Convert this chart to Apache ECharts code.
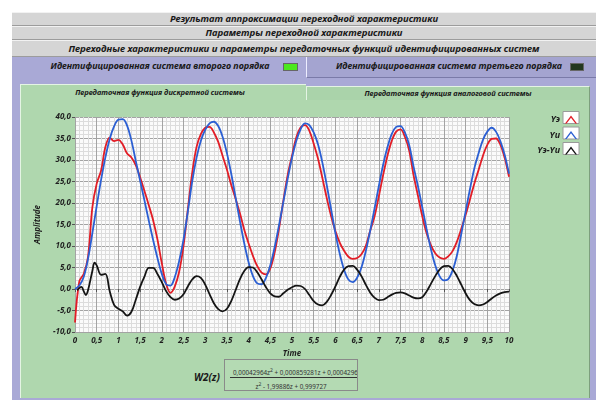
<!DOCTYPE html>
<html>
<head>
<meta charset="utf-8">
<script src="https://cdn.jsdelivr.net/npm/echarts/dist/echarts.min.js"></script>
<style>
  body { margin: 0; width: 596px; height: 400px; overflow: hidden; background: #fff; position: relative;
         font-family: "Noto Sans", "Liberation Sans", sans-serif; }
  .abs { position: absolute; box-sizing: border-box; }
  .bi { font-weight: bold; font-style: italic; color: #1a1a1a; white-space: nowrap; }
  .bar { left: 12px; width: 584px; background: #d5d5d5; border-top: 1px solid #f2f2f2; border-bottom: 1px solid #9c9c9c;
         text-align: center; }
  .led { border: 1px solid #666; }
  .tab { text-align: center; }
  #chart { position: absolute; left: 0; top: 0; width: 596px; height: 400px; }
  sup { font-size: 5px; vertical-align: 3px; }
</style>
</head>
<body>
<!-- шапка -->
<div class="abs bar bi" style="top:12px;height:14px;font-size:9.5px;line-height:12px;">Результат аппроксимации переходной характеристики</div>
<div class="abs bar bi" style="top:26px;height:14px;font-size:9.5px;line-height:12px;">Параметры переходной характеристики</div>
<div class="abs bar bi" style="top:40px;height:17px;font-size:9.6px;line-height:15px;">Переходные характеристики и параметры передаточных функций идентифицированных систем</div>

<!-- фиолетовая вкладка -->
<div class="abs" style="left:12px;top:57px;width:584px;height:343px;background:#a9a9d6;"></div>
<div class="abs bi tab" style="left:30px;top:59px;width:260px;height:16px;font-size:9px;line-height:14px;">Идентифицированная система второго порядка</div>
<div class="abs led" style="left:283px;top:63px;width:15px;height:8px;background:#4be81e;"></div>
<div class="abs" style="left:306px;top:57px;width:290px;height:21px;background:#a4a4d0;border-left:1px solid #ededff;border-bottom:1px solid #7a7aa8;"></div>
<div class="abs bi tab" style="left:330px;top:59px;width:238px;height:16px;font-size:9px;line-height:14px;">Идентифицированная система третьего порядка</div>
<div class="abs led" style="left:570px;top:63px;width:14px;height:8px;background:#23381f;"></div>

<!-- зелёная вкладка -->
<div class="abs" style="left:20px;top:84px;width:286px;height:20px;background:#afd7ae;border-top:1px solid #e4f4e4;border-left:1px solid #e4f4e4;"></div>
<div class="abs bi tab" style="left:20px;top:85px;width:280px;height:14px;font-size:7.5px;line-height:14px;">Передаточная функция дискретной системы</div>
<div class="abs" style="left:306px;top:86px;width:284px;height:15px;background:#aad3aa;border:1px solid #e4f4e4;border-bottom:1px solid #7d9f7d;border-right:1px solid #7d9f7d;"></div>
<div class="abs bi tab" style="left:306px;top:86px;width:284px;height:14px;font-size:7.5px;line-height:14px;">Передаточная функция аналоговой системы</div>
<div class="abs" style="left:20px;top:100px;width:570px;height:298px;background:#afd7ae;border-left:1px solid #e4f4e4;border-right:1px solid #7d9f7d;"></div>

<!-- передаточная функция -->
<div class="abs bi" style="left:194px;top:371px;font-size:10px;line-height:13px;">W2(z)</div>
<div class="abs" style="left:224px;top:359px;width:134px;height:32px;background:#b4dab3;border:1px solid #8a8a8a;overflow:hidden;">
  <div class="abs" style="left:8px;top:6px;font-size:6.3px;line-height:8px;color:#333;white-space:nowrap;">0,00042964z<sup>2</sup> + 0,000859281z + 0,0004296</div>
  <div class="abs" style="left:5px;top:17px;width:127px;height:1px;background:#333;"></div>
  <div class="abs" style="left:0;top:20px;width:132px;text-align:center;font-size:6.3px;line-height:8px;color:#333;white-space:nowrap;">z<sup>2</sup> - 1,99886z + 0,999727</div>
</div>

<div id="chart"></div>
<script>
// время, с (шаг 0.1)
var time = [0, 0.1, 0.2, 0.3, 0.4, 0.5, 0.6, 0.7, 0.8, 0.9,
  1, 1.1, 1.2, 1.3, 1.4, 1.5, 1.6, 1.7, 1.8, 1.9,
  2, 2.1, 2.2, 2.3, 2.4, 2.5, 2.6, 2.7, 2.8, 2.9,
  3, 3.1, 3.2, 3.3, 3.4, 3.5, 3.6, 3.7, 3.8, 3.9,
  4, 4.1, 4.2, 4.3, 4.4, 4.5, 4.6, 4.7, 4.8, 4.9,
  5, 5.1, 5.2, 5.3, 5.4, 5.5, 5.6, 5.7, 5.8, 5.9,
  6, 6.1, 6.2, 6.3, 6.4, 6.5, 6.6, 6.7, 6.8, 6.9,
  7, 7.1, 7.2, 7.3, 7.4, 7.5, 7.6, 7.7, 7.8, 7.9,
  8, 8.1, 8.2, 8.3, 8.4, 8.5, 8.6, 8.7, 8.8, 8.9,
  9, 9.1, 9.2, 9.3, 9.4, 9.5, 9.6, 9.7, 9.8, 9.9, 10];

// экспериментальная характеристика
var yE = [-7.8, 1.8, 3.5, 7.5, 19.0, 24.5, 27.5, 33.0, 35.2, 34.4,
  34.7, 33.6, 31.5, 30.6, 28.8, 26.0, 22.8, 19.5, 16.0, 11.5,
  6.0, 1.2, -0.9, 0.6, 4.0, 10.0, 18.5, 27.0, 33.0, 36.0,
  37.5, 37.7, 36.4, 34.2, 31.0, 27.8, 24.2, 21.0, 17.6, 13.8,
  10.6, 7.7, 5.3, 3.8, 3.4, 4.8, 8.5, 14.0, 20.5, 26.5,
  31.0, 35.3, 37.6, 38.1, 36.8, 33.8, 30.3, 25.8, 21.2, 17.0,
  13.5, 10.8, 8.9, 7.5, 7.0, 7.2, 8.1, 10.0, 13.5, 16.8,
  21.5, 26.5, 31.0, 34.5, 36.6, 37.1, 35.4, 32.2, 26.5, 21.8,
  17.0, 13.0, 10.2, 8.3, 7.3, 7.0, 7.6, 8.8, 11.0, 14.0,
  17.2, 20.8, 24.5, 27.7, 31.0, 33.5, 34.9, 35.0, 33.6, 30.5, 26.1];

// идентифицированная система
var yI = [0.0, 0.8, 2.8, 7.0, 13.0, 19.3, 25.3, 30.6, 34.9, 37.8,
  39.4, 39.5, 38.0, 34.5, 29.8, 25.2, 20.6, 15.9, 11.4, 7.2,
  3.5, 1.1, 0.8, 2.8, 6.5, 11.5, 18.0, 25.0, 30.5, 34.5,
  37.0, 38.5, 38.9, 37.9, 35.4, 31.6, 26.8, 21.3, 15.8, 10.6,
  6.2, 3.0, 1.3, 1.1, 2.6, 5.5, 9.7, 14.8, 20.2, 25.6,
  30.5, 34.5, 37.2, 38.5, 38.1, 36.4, 33.6, 29.4, 24.2, 18.6,
  13.0, 8.2, 4.5, 2.2, 1.6, 2.6, 5.0, 8.8, 13.5, 18.6,
  23.9, 28.9, 33.0, 36.1, 37.7, 37.9, 36.4, 33.5, 28.5, 24.0,
  19.1, 14.0, 9.3, 5.5, 3.0, 2.0, 2.3, 4.3, 7.8, 12.8,
  18.0, 23.2, 28.0, 31.6, 34.7, 36.6, 37.5, 36.6, 34.4, 31.2, 26.8];

// разность Yэ-Yи (своя сетка по времени в начале)
var diffTime = [0.05, 0.1, 0.15, 0.2, 0.25, 0.3, 0.4, 0.45, 0.5, 0.6, 0.7, 0.8, 0.9,
  1, 1.1, 1.2, 1.3, 1.4, 1.5, 1.6, 1.7, 1.8, 1.9,
  2, 2.1, 2.2, 2.3, 2.4, 2.5, 2.6, 2.7, 2.8, 2.9,
  3, 3.1, 3.2, 3.3, 3.4, 3.5, 3.6, 3.7, 3.8, 3.9,
  4, 4.1, 4.2, 4.3, 4.4, 4.5, 4.6, 4.7, 4.8, 4.9,
  5, 5.1, 5.2, 5.3, 5.4, 5.5, 5.6, 5.7, 5.8, 5.9,
  6, 6.1, 6.2, 6.3, 6.4, 6.5, 6.6, 6.7, 6.8, 6.9,
  7, 7.1, 7.2, 7.3, 7.4, 7.5, 7.6, 7.7, 7.8, 7.9,
  8, 8.1, 8.2, 8.3, 8.4, 8.5, 8.6, 8.7, 8.8, 8.9,
  9, 9.1, 9.2, 9.3, 9.4, 9.5, 9.6, 9.7, 9.8, 9.9, 10];
var diff = [-0.3, 0.2, 0.5, -0.5, -1.4, -0.3, 4.2, 6.1, 5.5, 3.3, 3.5, -0.5, -3.7,
  -4.6, -5.2, -6.2, -5.3, -2.5, 0.5, 2.9, 4.9, 4.9, 3.5,
  1.6, -0.5, -1.9, -2.5, -2.2, -1.2, 0.6, 2.2, 3.0, 2.6,
  1.0, -1.2, -3.3, -4.7, -5.2, -4.6, -2.8, -0.3, 2.3, 4.2,
  5.1, 5.0, 3.9, 2.2, 0.4, -1.0, -1.7, -1.8, -1.0, -0.2,
  0.4, 0.8, 0.7, 0.0, -1.4, -2.8, -3.6, -3.8, -3.0, -1.4,
  0.6, 2.8, 4.5, 5.3, 5.4, 4.5, 3.0, 1.0, -0.8, -2.0,
  -2.6, -2.5, -1.9, -1.3, -0.9, -0.8, -1.0, -1.5, -2.0, -2.2,
  -1.9, -0.6, 1.2, 3.0, 4.5, 5.3, 5.4, 4.6, 3.0, 1.0,
  -1.0, -2.6, -3.5, -3.8, -3.6, -3.0, -2.2, -1.5, -1.0, -0.7, -0.6];

var names = ['Yэ', 'Yи', 'Yэ-Yи'];
var colors = ['#e21d26', '#2b5fd3', '#141414'];

function pairs(xs, ys) {
  return xs.map(function (x, i) { return [x, ys[i]]; });
}

var chevron = 'path://M0,8 L6,0 L12,8 L10.4,8 L6,2.2 L1.6,8 Z';
var lblFont = { fontFamily: 'Noto Sans', fontSize: 8, fontWeight: 'bold', fontStyle: 'italic', color: '#1e1e1e' };

var chart = echarts.init(document.getElementById('chart'));
chart.setOption({
  animation: false,
  textStyle: { fontFamily: 'Noto Sans' },
  color: colors,
  grid: { left: 75, top: 117, width: 434, height: 215, show: true, backgroundColor: '#fbfbfb', borderWidth: 0 },
  legend: {
    orient: 'vertical', right: 19, top: 113.5, align: 'right', padding: 0, z: 10,
    itemWidth: 12, itemHeight: 8, itemGap: 3.5,
    textStyle: { fontFamily: 'Noto Sans', fontSize: 9, fontWeight: 'bold', fontStyle: 'italic', color: '#1e1e1e', lineHeight: 12 },
    data: names.map(function (n) { return { name: n, icon: chevron }; })
  },
  graphic: [0, 1, 2].map(function (i) {
    // белые рамки под значками легенды
    return { type: 'rect', z: -1, shape: { x: 563, y: 111.5 + i * 15.5, width: 16, height: 12 },
             style: { fill: '#ffffff', stroke: '#9a9a9a', lineWidth: 1 } };
  }),
  xAxis: {
    type: 'value', min: 0, max: 10, interval: 0.5,
    name: 'Time', nameLocation: 'middle', nameGap: 17, nameTextStyle: lblFont,
    axisLine: { show: false },
    axisTick: { show: true, length: 3, lineStyle: { color: '#555' } },
    axisLabel: Object.assign({ margin: 5, formatter: function (v) { return String(v).replace('.', ','); } }, lblFont),
    splitLine: { show: true, lineStyle: { color: '#a3a3a3', width: 1 } },
    minorTick: { show: false, splitNumber: 5 },
    minorSplitLine: { show: true, lineStyle: { color: '#dcdcdc', width: 1 } }
  },
  yAxis: {
    type: 'value', min: -10, max: 40, interval: 5,
    name: 'Amplitude', nameLocation: 'middle', nameGap: 28, nameTextStyle: lblFont,
    axisLine: { show: false },
    axisTick: { show: true, length: 3, lineStyle: { color: '#555' } },
    axisLabel: Object.assign({ margin: 4, formatter: function (v) { return v.toFixed(1).replace('.', ','); } }, lblFont),
    splitLine: { show: true, lineStyle: { color: '#a3a3a3', width: 1 } },
    minorTick: { show: false, splitNumber: 5 },
    minorSplitLine: { show: true, lineStyle: { color: '#dcdcdc', width: 1 } }
  },
  series: [
    { name: names[0], type: 'line', data: pairs(time, yE), smooth: 0.35, showSymbol: false, lineStyle: { width: 1.8 } },
    { name: names[1], type: 'line', data: pairs(time, yI), smooth: 0.35, showSymbol: false, lineStyle: { width: 1.8 } },
    { name: names[2], type: 'line', data: pairs(diffTime, diff), smooth: 0.35, showSymbol: false, lineStyle: { width: 1.8 } }
  ]
});
</script>
</body>
</html>
